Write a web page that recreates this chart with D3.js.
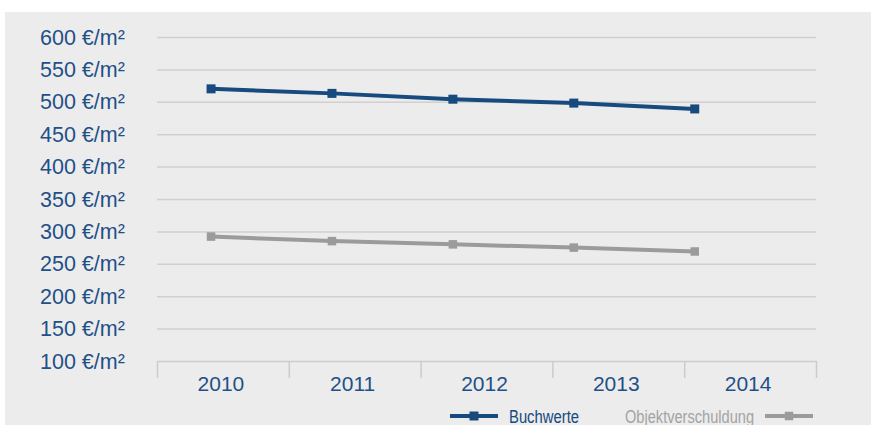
<head>
    <script src="https://d3js.org/d3.v7.min.js"></script>
    <style>
        html, body { margin: 0; padding: 0; overflow: hidden; background: #fff; }
        svg { display: block; overflow: visible; }
        svg text { font-family: "Liberation Sans", Arial, sans-serif; }
    </style>
</head>

<body>
    <div id="chart"></div>
</body>

<script>
    // data
    const years = ["2010", "2011", "2012", "2013", "2014"];
    const buchwerte = [520, 513, 504, 498, 489];
    const objektverschuldung = [292, 285, 280, 275, 269];
    const yTicks = [100, 150, 200, 250, 300, 350, 400, 450, 500, 550, 600];
    const seriesNames = ["Buchwerte", "Objektverschuldung"];

    const width = 871, height = 425;
    const margin = { top: 37, right: 55, bottom: 64, left: 157 };
    const blue = "#174a7e", grey = "#9b9b9b";

    const svg = d3.select("#chart")
        .append("svg")
        .attr("width", width)
        .attr("height", height);

    // grey panel (drawn wider than the svg so the right edge stays grey)
    svg.append("rect")
        .attr("x", 5).attr("y", 12)
        .attr("width", width + 200).attr("height", height + 50)
        .attr("fill", "#ececec");

    let x = d3.scaleBand()
        .domain(years)
        .range([margin.left, width - margin.right]);

    // the markers sit left of the band centres in the original
    let plotW = width - margin.right - margin.left;
    let xp = d3.scalePoint()
        .domain(years)
        .range([margin.left + plotW * 0.082, margin.left + plotW * 0.816]);

    let y = d3.scaleLinear()
        .domain([100, 600])
        .range([height - margin.bottom, margin.top]);

    // grid lines
    svg.append("g")
        .selectAll("line")
        .data(yTicks.slice(1))
        .enter()
        .append("line")
        .attr("x1", margin.left)
        .attr("x2", width - margin.right)
        .attr("y1", d => y(d) + 0.5)
        .attr("y2", d => y(d) + 0.5)
        .attr("stroke", "#d0d0d0")
        .attr("stroke-width", 1.5);

    // y labels
    svg.append("g")
        .selectAll("text")
        .data(yTicks)
        .enter()
        .append("text")
        .attr("x", 40)
        .attr("y", d => y(d) + 7.5)
        .attr("fill", "#1f5088")
        .style("font-size", "21.5px")
        .text(d => d + " €/m²");

    // x axis
    let xAxis = svg.append("g")
        .attr("transform", "translate(0," + (height - margin.bottom) + ")")
        .call(d3.axisBottom(x).tickSize(0).tickPadding(10));
    xAxis.select(".domain").attr("stroke", "#cccccc").attr("stroke-width", 1.5);
    xAxis.selectAll("text")
        .attr("fill", "#1f5088")
        .attr("dy", "0.95em")
        .attr("dx", "-2")
        .style("font-size", "21px")
        .style("font-family", "'Liberation Sans', Arial, sans-serif");

    let bounds = years.map(d => x(d)).concat([x.range()[1]]);
    svg.append("g")
        .selectAll("line")
        .data(bounds)
        .enter()
        .append("line")
        .attr("x1", d => d + 0.5).attr("x2", d => d + 0.5)
        .attr("y1", height - margin.bottom)
        .attr("y2", height - margin.bottom + 17)
        .attr("stroke", "#cccccc")
        .attr("stroke-width", 1.5);

    // lines + markers
    function drawSeries(values, color, lw, ms) {
        let line = d3.line()
            .x((d, i) => xp(years[i]))
            .y(d => y(d));
        svg.append("path")
            .datum(values)
            .attr("d", line)
            .attr("fill", "none")
            .attr("stroke", color)
            .attr("stroke-width", lw);
        svg.append("g")
            .selectAll("rect")
            .data(values)
            .enter()
            .append("rect")
            .attr("x", (d, i) => xp(years[i]) - ms / 2)
            .attr("y", d => y(d) - ms / 2)
            .attr("width", ms)
            .attr("height", ms)
            .attr("fill", color);
    }
    drawSeries(objektverschuldung, grey, 4, 8.5);
    drawSeries(buchwerte, blue, 4, 9);

    // legend (condensed look via textLength, no narrow font installed)
    let ly = 416;
    function legendSymbol(x0, x1, color, ms) {
        svg.append("line")
            .attr("x1", x0).attr("x2", x1)
            .attr("y1", ly).attr("y2", ly)
            .attr("stroke", color).attr("stroke-width", 4);
        svg.append("rect")
            .attr("x", (x0 + x1) / 2 - ms / 2)
            .attr("y", ly - ms / 2)
            .attr("width", ms).attr("height", ms)
            .attr("fill", color);
    }
    legendSymbol(450, 498, blue, 9);
    svg.append("text")
        .attr("x", 509).attr("y", ly + 6.5)
        .attr("fill", blue)
        .attr("textLength", 70)
        .attr("lengthAdjust", "spacingAndGlyphs")
        .style("font-size", "18px")
        .text(seriesNames[0]);

    svg.append("text")
        .attr("x", 625).attr("y", ly + 6.5)
        .attr("fill", "#a3a3a3")
        .attr("textLength", 129)
        .attr("lengthAdjust", "spacingAndGlyphs")
        .style("font-size", "18px")
        .text(seriesNames[1]);
    legendSymbol(765, 813, grey, 8.5);
</script>
